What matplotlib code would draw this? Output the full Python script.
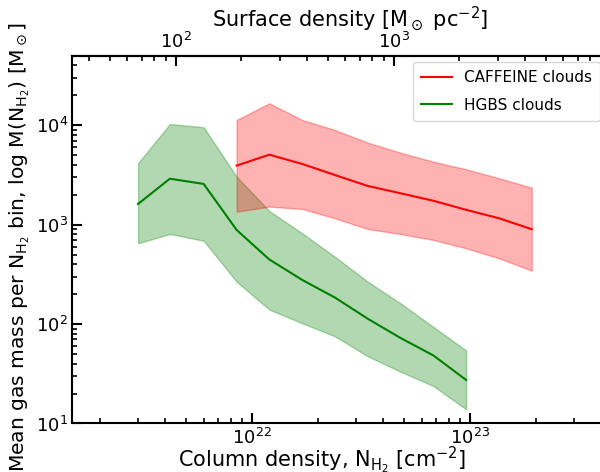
import numpy as np
import matplotlib
matplotlib.use("Agg")
from matplotlib import pyplot as plt

# column density bin centres [cm^-2]
caffeine_n = [8.5e21, 1.2e22, 1.7e22, 2.4e22, 3.4e22, 4.8e22, 6.8e22, 9.6e22, 1.36e23, 1.92e23]
hgbs_n = [3.0e21, 4.2e21, 6.0e21, 8.5e21, 1.2e22, 1.7e22, 2.4e22, 3.4e22, 4.8e22, 6.8e22, 9.6e22]

# mass per bin [Msun]: median and spread
caffeine_mid = [3930, 5060, 4080, 3160, 2450, 2070, 1740, 1410, 1160, 900]
caffeine_hi = [11300, 16650, 11300, 8970, 6680, 5300, 4300, 3610, 2930, 2360]
caffeine_lo = [1350, 1520, 1440, 1160, 905, 806, 702, 579, 459, 345]

hgbs_mid = [1615, 2900, 2570, 885, 447, 278, 185, 113, 72.5, 48.3, 27.4]
hgbs_hi = [4150, 10300, 9550, 3040, 1374, 819, 476, 267, 162, 93.5, 54.2]
hgbs_lo = [650, 806, 690, 267, 140, 102, 75.4, 47.4, 33.2, 23.8, 13.9]

# N(H2) -> surface density, mu = 2.8
SIGMA_PER_N = 2.242e-20

plt.rcParams["font.size"] = 13
plt.rcParams["mathtext.default"] = "regular"

fig = plt.figure(figsize=(6.0, 4.72), dpi=100)
ax = fig.add_axes([0.1207, 0.1028, 0.889, 0.779])

ax.fill_between(hgbs_n, hgbs_lo, hgbs_hi, color="green", alpha=0.3)
ax.fill_between(caffeine_n, caffeine_lo, caffeine_hi, color="red", alpha=0.3)
ax.plot(caffeine_n, caffeine_mid, color="red", lw=1.5, label="CAFFEINE clouds")
ax.plot(hgbs_n, hgbs_mid, color="green", lw=1.5, label="HGBS clouds")

ax.set_xscale("log")
ax.set_yscale("log")
ax.set_xlim(1.5e21, 4.2e23)
ax.set_ylim(10, 5e4)

ax.set_xlabel(r"Column density, N$_{\rm H_2}$ [cm$^{-2}$]", fontsize=15, labelpad=-2)
ax.xaxis.label.set_x(0.468)
ax.set_ylabel(r"Mean gas mass per N$_{\rm H_2}$ bin, log M(N$_{\rm H_2}$) [M$_\odot$]",
              fontsize=14.6, labelpad=3)
ax.yaxis.label.set_y(0.48)

for s in ax.spines.values():
    s.set_linewidth(1.5)
ax.tick_params(which="both", direction="in", top=False, right=False)
ax.tick_params(which="major", length=7, width=1.5, labelsize=13, pad=3)
ax.tick_params(which="minor", length=3.5, width=1.2)

top = ax.secondary_xaxis("top", functions=(lambda n: n * SIGMA_PER_N,
                                           lambda s: s / SIGMA_PER_N))
top.set_xlabel(r"Surface density [M$_\odot$ pc$^{-2}$]", fontsize=15, labelpad=4)
top.xaxis.label.set_x(0.52)
top.tick_params(which="both", direction="in")
top.tick_params(which="major", length=7, width=1.5, labelsize=13, pad=3)
top.tick_params(which="minor", length=3.5, width=1.2)
top.spines["top"].set_linewidth(1.5)

ax.legend(loc="upper left", bbox_to_anchor=(0.638, 0.983), borderaxespad=0,
          fontsize=11, labelspacing=0.8, borderpad=0.55, frameon=True)

fig.savefig("out.png", dpi=100)
